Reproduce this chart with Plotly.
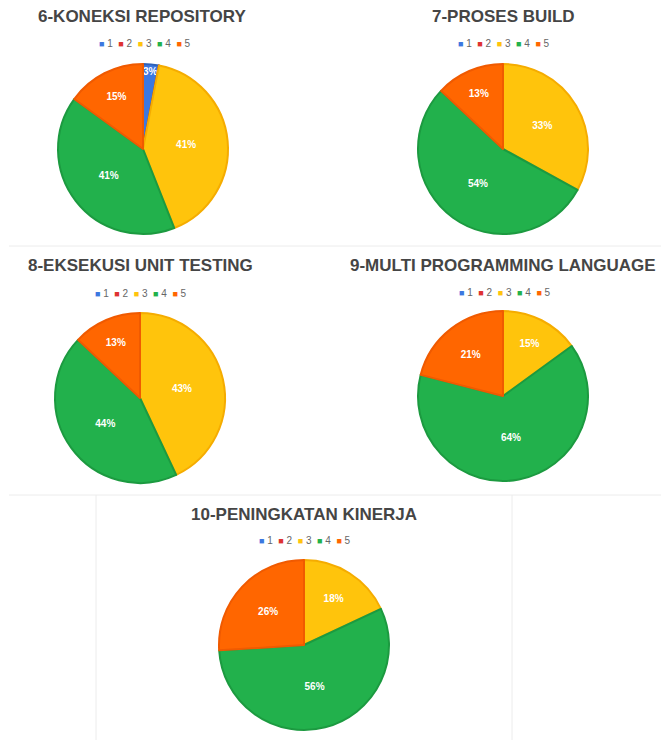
import plotly.graph_objects as go

# The page body has an 8px margin, so the figure is drawn 8px in from the window edge.
PAGE_MARGIN = 8
W, H = 669 - PAGE_MARGIN, 740 - PAGE_MARGIN

labels = ["1", "2", "3", "4", "5"]
colors = ["#3C78E0", "#DE3232", "#FFC40C", "#22B14C", "#FF6600"]
edge_colors = ["#2F62B8", "#B22222", "#F5AC00", "#1C9A40", "#F05A00"]

titles = [
    "6-KONEKSI REPOSITORY",
    "7-PROSES BUILD",
    "8-EKSEKUSI UNIT TESTING",
    "9-MULTI PROGRAMMING LANGUAGE",
    "10-PENINGKATAN KINERJA",
]
values_6 = [3, 0, 41, 41, 15]
values_7 = [0, 0, 33, 54, 13]
values_8 = [0, 0, 43, 44, 13]
values_9 = [0, 0, 15, 64, 21]
values_10 = [0, 0, 18, 56, 26]
all_values = [values_6, values_7, values_8, values_9, values_10]

# layout (page-pixel positions of each panel)
pie_centers = [(143, 149), (503, 149), (140, 398), (503, 396), (304, 645)]
radius = 85
title_pos = [(142, 16), (503, 16), (140, 265), (503, 265), (304, 514)]
legend_pos = [(145, 43), (504, 43), (141, 293), (505, 292), (305, 540)]


def px(x):
    return (x - PAGE_MARGIN) / W


def py(y):
    return 1 - (y - PAGE_MARGIN) / H


fig = go.Figure()

for vals, (cx, cy) in zip(all_values, pie_centers):
    fig.add_trace(go.Pie(
        labels=labels,
        values=vals,
        sort=False,
        direction="clockwise",
        rotation=0,
        marker=dict(colors=colors, line=dict(color=edge_colors, width=2)),
        text=[f"{v}%" if v else "" for v in vals],
        textinfo="text",
        textposition="inside",
        insidetextorientation="horizontal",
        textfont=dict(family="Liberation Sans", size=10, color="white", weight="bold"),
        domain=dict(x=[px(cx - radius), px(cx + radius)],
                    y=[py(cy + radius), py(cy - radius)]),
        showlegend=False,
        hoverinfo="label+percent",
    ))

annotations = []
for t, (tx, ty) in zip(titles, title_pos):
    annotations.append(dict(
        text=f"<b>{t}</b>", x=px(tx), y=py(ty), xref="paper", yref="paper",
        showarrow=False, xanchor="center", yanchor="middle",
        font=dict(family="Liberation Sans", size=17, color="#454545"),
    ))

legend_text = "&nbsp;&nbsp;".join(
    f'<span style="color:{c};font-size:9px">■</span><span style="color:#666"> {lab}</span>'
    for c, lab in zip(colors, labels)
)
for (lx, ly) in legend_pos:
    annotations.append(dict(
        text=legend_text, x=px(lx), y=py(ly), xref="paper", yref="paper",
        showarrow=False, xanchor="center", yanchor="middle",
        font=dict(family="Liberation Sans", size=10, color="#666"),
    ))

line_style = dict(color="#ECECEC", width=1)
shapes = [
    dict(type="line", xref="paper", yref="paper", x0=px(9), x1=1, y0=py(246), y1=py(246), line=line_style),
    dict(type="line", xref="paper", yref="paper", x0=px(9), x1=1, y0=py(495), y1=py(495), line=line_style),
    dict(type="line", xref="paper", yref="paper", x0=px(96), x1=px(96), y0=0, y1=py(495), line=line_style),
    dict(type="line", xref="paper", yref="paper", x0=px(512), x1=px(512), y0=0, y1=py(495), line=line_style),
]

fig.update_layout(
    width=W, height=H,
    margin=dict(l=0, r=0, t=0, b=0),
    paper_bgcolor="white", plot_bgcolor="white",
    annotations=annotations,
    shapes=shapes,
    uniformtext=dict(minsize=10, mode="show"),
    showlegend=False,
)

fig.write_html("out.html")
